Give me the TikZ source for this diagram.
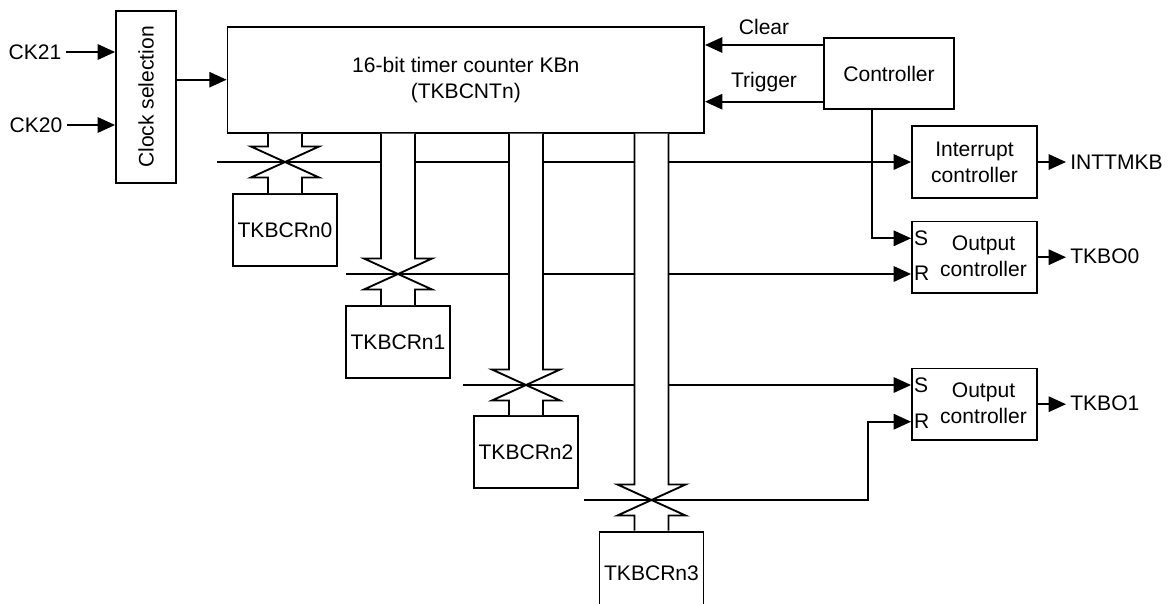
\documentclass[tikz,border=0pt]{standalone}
\usepackage{fontspec}
\setmainfont{Liberation Sans}
\usetikzlibrary{arrows.meta,positioning,calc}
\tikzset{box/.style={draw,line width=1.4pt,fill=white,inner sep=0pt,align=center},
 reg/.style={box,minimum width=78pt,minimum height=54pt},
 ctl/.style={box,minimum width=93.75pt,minimum height=53.6pt},
 arr/.style={-{Triangle[length=13pt,width=11.5pt]},line width=1.4pt},
 wire/.style={line width=1.4pt},
 bus/.style={line width=1.4pt,fill=white},
 txt/.style={align=center,inner sep=3pt},
 sr/.style={anchor=west,inner sep=2pt}}
% hollow bus from the counter down to a register, crossing at the line #2
\newcommand\regbus[2]{%
 \filldraw[bus] let \p1=(#1.north),\p2=(#2),\p3=(cnt.south) in
  (\x1-12.75pt,\y3)--(\x1-12.75pt,\y2+11.6pt)--(\x1-25.5pt,\y2+11.6pt)--(\x1,\y2)
  --(\x1+25.5pt,\y2+11.6pt)--(\x1+12.75pt,\y2+11.6pt)--(\x1+12.75pt,\y3);
 \filldraw[bus] let \p1=(#1.north),\p2=(#2) in
  (\x1-12.75pt,\y1)--(\x1-12.75pt,\y2-11.6pt)--(\x1-25.5pt,\y2-11.6pt)--(\x1,\y2)
  --(\x1+25.5pt,\y2-11.6pt)--(\x1+12.75pt,\y2-11.6pt)--(\x1+12.75pt,\y1);}

\begin{document}
\begin{tikzpicture}[x=.75pt,y=-.75pt,font=\fontsize{15.8}{19.5}\selectfont]
\useasboundingbox (0,0) rectangle (1173,603);
% clock side
\node[box,minimum width=45pt,minimum height=129pt](clk) at (146,97){};
\node[rotate=90](clktxt) at (clk){Clock selection};
\node[txt](ck21) at (35,52){CK21};
\node[txt](ck20) at (36,125){CK20};
\draw[arr](ck21.east)--(ck21-|clk.west);
\draw[arr](ck20.east)--(ck20-|clk.west);
\node[box,minimum width=357.4pt,minimum height=79.5pt](cnt) at (465.8,79.7){16-bit timer counter KBn\\(TKBCNTn)};
\draw[arr](clk.east|-cnt.west)--(cnt.west);
% controller
\node[box,minimum width=97.5pt,minimum height=53.7pt](ctrl) at (889,73.5){Controller};
\draw[arr]($(ctrl.west)+(0,-28.5)$)coordinate(clr)--(clr-|cnt.east)node[midway,above=4pt]{Clear};
\draw[arr]($(ctrl.west)+(0,28.2)$)coordinate(trg)--(trg-|cnt.east)node[midway,above=3pt]{Trigger};
% right-hand blocks
\node[ctl](intc) at (974.5,162){Interrupt\\controller};
\node[ctl](out0) at (974.5,257.2){};
\node[ctl](out1) at (974.5,404.2){};
\node[txt](out0t) at (983.5,256.3){Output\\controller};
\node[txt](out1t) at (983.5,403.3){Output\\controller};
\node[sr](s0) at (out0.west|-0,238.3){S};
\node[sr](r0) at (out0.west|-0,273.3){R};
\node[sr](s1) at (out1.west|-0,385){S};
\node[sr](r1) at (out1.west|-0,421.7){R};
\node[txt,anchor=west](inttmkb) at (1066,162){INTTMKB};
\node[txt,anchor=west](tkbo0) at (1066,256.7){TKBO0};
\node[txt,anchor=west](tkbo1) at (1066,403.3){TKBO1};
\draw[arr](intc.east)--(intc.east-|inttmkb.west);
\draw[arr](out0.east)--(out0.east-|tkbo0.west);
\draw[arr](out1.east)--(out1.east-|tkbo1.west);
\draw[arr]($(ctrl.south)+(-17,0)$)|-(s0.west);
% compare registers
\node[reg](reg0) at (285,230){TKBCRn0};
\node[reg](reg1) at (398,342){TKBCRn1};
\node[reg](reg2) at (526,452){TKBCRn2};
\node[reg,minimum height=62pt](reg3) at (651.5,573){TKBCRn3};
\coordinate(l0) at (217,162);
\coordinate(l1) at (346,274);
\coordinate(l2) at (463,385);
\coordinate(l3) at (584,500);
\draw[arr](l0)--(l0-|intc.west);
\draw[arr](l1)--(l1-|r0.west);
\draw[arr](l2)--(l2-|s1.west);
\draw[arr](l3)--(l3-|868,0)|-(r1.west);
\regbus{reg0}{l0}
\regbus{reg1}{l1}
\regbus{reg2}{l2}
\regbus{reg3}{l3}
\end{tikzpicture}
\end{document}
